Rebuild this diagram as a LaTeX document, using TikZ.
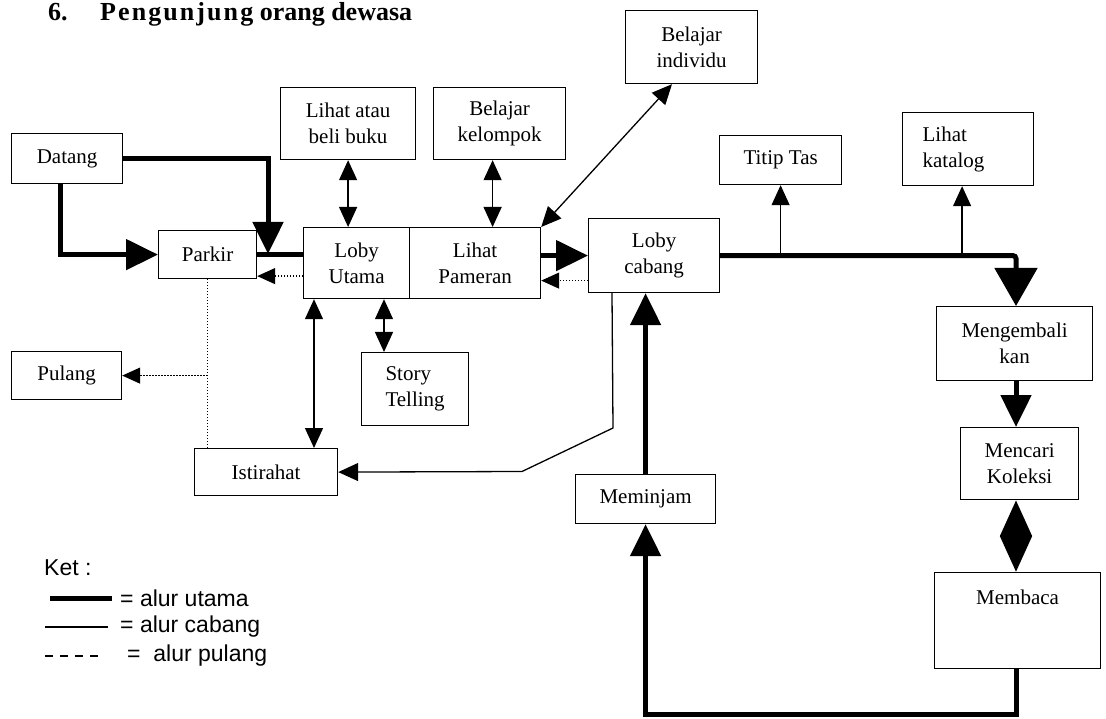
\documentclass[tikz,border=0pt]{standalone}
\usepackage{fontspec}
\setmainfont{Liberation Serif}
\newfontfamily\legendfont{Liberation Sans}
\usetikzlibrary{arrows.meta,calc}
\newcommand\bxfont{\fontsize{21}{26}\selectfont}

\begin{document}
\begin{tikzpicture}[x=1pt,y=-1pt,
  box/.style={draw, line width=1.2pt, inner sep=0pt, align=center, anchor=north west, font=\bxfont},
  mainline/.style={line width=5pt},
  main/.style={line width=5pt, -{Triangle[length=32pt,width=30pt]}},
  bigmain/.style={line width=5pt, -{Triangle[length=38pt,width=42pt]}},
  branch/.style={line width=1.3pt, -{Triangle[length=20pt,width=18pt]}},
  both/.style={line width=1.3pt, {Triangle[length=20pt,width=18pt]}-{Triangle[length=20pt,width=18pt]}},
  diamondlink/.style={line width=5pt, {Triangle[length=36pt,width=31pt]}-{Triangle[length=36pt,width=31pt]}},
  dotline/.style={line width=1.2pt, dash pattern=on 1.2pt off 1.8pt},
  back/.style={dotline, -{Triangle[length=18pt,width=16pt]}},
  legendtext/.style={anchor=west, inner sep=0pt, font=\legendfont\fontsize{23}{27}\selectfont}
]
\fill[white] (0,0) rectangle (1106,719);
\useasboundingbox (0,0) rectangle (1106,719);

% title
\node[anchor=base west, inner sep=0pt, font=\bfseries\fontsize{26}{30}\selectfont] (num) at (48,21) {6.};
\node[anchor=base west, inner sep=0pt, font=\bfseries\fontsize{26}{30}\selectfont] (title) at (100,21)
  {{\addfontfeature{LetterSpace=8}Pengunjung} orang dewasa};

% boxes
\node[box, minimum width=111pt, minimum height=50pt] (datang) at (11,133) {Datang};
\node[box, minimum width=98pt, minimum height=48pt] (parkir) at (158,230) {Parkir};
\node[box, minimum width=106pt, minimum height=71pt] (lobyu) at (303,227) {Loby\\Utama};
\node[box, minimum width=131pt, minimum height=71pt] (pameran) at (409,227) {Lihat\\Pameran};
\node[box, minimum width=135pt, minimum height=72pt] (buku) at (280,87) {Lihat atau\\beli buku};
\node[box, minimum width=132pt, minimum height=72pt] (kelompok) at (433,87) {Belajar\\kelompok};
\node[box, minimum width=132pt, minimum height=73pt] (individu) at (625,10) {Belajar\\individu};
\node[box, minimum width=122pt, minimum height=49pt] (titip) at (719,135) {Titip Tas};
\node[box, minimum height=73pt, text width=91pt, inner xsep=20pt, align=left] (katalog) at (902,112) {Lihat\\katalog};
\node[box, minimum width=131pt, minimum height=74pt] (lobyc) at (588,218) {Loby\\cabang};
\node[box, minimum width=156pt, minimum height=74pt] (kembali) at (936,306) {Mengembali\\kan};
\node[box, minimum width=118pt, minimum height=72pt] (cari) at (960,427) {Mencari\\Koleksi};
\node[box, minimum width=166pt, minimum height=96pt] (baca) at (934,572) {};
\node[anchor=center, inner sep=0pt, font=\bxfont] (bacatext) at ($(baca.north)+(0,25)$) {Membaca};
\node[box, minimum width=140pt, minimum height=49pt] (pinjam) at (575,474) {Meminjam};
\node[box, minimum width=143pt, minimum height=47pt] (istirahat) at (194,448) {Istirahat};
\node[box, minimum width=110pt, minimum height=48pt] (pulang) at (11,351) {Pulang};
\node[box, minimum width=107pt, minimum height=73pt, align=left] (story) at (361,352) {Story\\Telling};

% anchor points on box edges
\coordinate (datangout) at ($(datang.south west)+(49,0)$);
\coordinate (pj) at (268,254);
\coordinate (kelout) at ($(kelompok.south)+(-7,0)$);
\coordinate (katin) at ($(katalog.south)+(-6,0)$);
\coordinate (indin) at ($(individu.south west)+(47,0)$);
\coordinate (restout) at ($(lobyu.south west)+(11,0)$);
\coordinate (storyin) at ($(story.north west)+(23,0)$);
\coordinate (cabout) at ($(lobyc.south west)+(24,0)$);
\coordinate (c1) at (613,428);
\coordinate (c2) at (522,471.5);
\coordinate (turn) at (1016,0);

% main route
\draw[main] (datangout) |- (parkir.west);
\draw[main] (datang.east) -| (pj);
\draw[mainline] (parkir.east) -- (parkir.east -| lobyu.west);
\draw[main] (pameran.east |- lobyc.west) -- (lobyc.west);
\draw[bigmain, rounded corners=3pt] (lobyc.east) -| (turn |- kembali.north);
\draw[main] (turn |- kembali.south) -- (turn |- cari.north);
\draw[diamondlink] (turn |- cari.south) -- (turn |- baca.north);
\draw[main] (turn |- baca.south) -- ++(0,45) -| (pinjam.south);
\draw[main] (pinjam.north) -- (pinjam.north |- lobyc.south);

% branch routes
\draw[both] (buku.south) -- (buku.south |- lobyu.north);
\draw[both] (kelout) -- (kelout |- pameran.north);
\draw[both] (pameran.north east) -- (indin);
\draw[branch] (titip.south |- lobyc.east) -- (titip.south);
\draw[branch] (katin |- lobyc.east) -- (katin);
\draw[both] (restout) -- (restout |- istirahat.north);
\draw[both] (storyin) -- (storyin |- lobyu.south);
\draw[branch] (cabout) -- (c1) -- (c2) -- (istirahat.east);

% return routes
\coordinate (d1) at ($(lobyu.west)+(0,13)$);
\draw[back] (d1) -- (d1 -| parkir.east);
\coordinate (d2) at ($(lobyc.west)+(0,25)$);
\draw[back] (d2) -- (d2 -| pameran.east);
\draw[dotline] (parkir.south) -- (parkir.south |- istirahat.north);
\draw[back] (parkir.south |- pulang.east) -- (pulang.east);

% legend
\node[legendtext] (ket) at (44,568) {Ket :};
\coordinate (l1a) at (50,598); \coordinate (l1b) at (112,598);
\draw[mainline] (l1a) -- (l1b);
\node[legendtext] (lg1) at (120,598) {= alur utama};
\coordinate (l2a) at (45,627); \coordinate (l2b) at (108,627);
\draw[line width=1.2pt] (l2a) -- (l2b);
\node[legendtext] (lg2) at (120,627) {= alur cabang};
\coordinate (l3a) at (45,656); \coordinate (l3b) at (100,656);
\draw[line width=1.6pt, dash pattern=on 8pt off 7pt] (l3a) -- (l3b);
\node[legendtext] (lg3) at (127,656) {=\ \ alur pulang};
\end{tikzpicture}
\end{document}
